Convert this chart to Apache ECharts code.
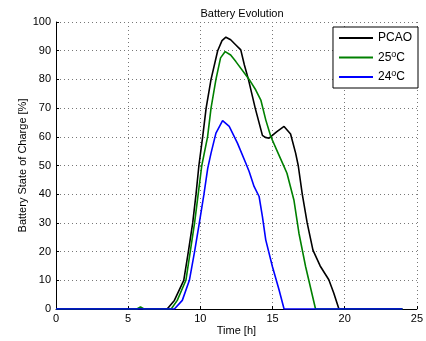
<!DOCTYPE html>
<html>
<head>
<meta charset="utf-8">
<script src="https://cdn.jsdelivr.net/npm/echarts@6/dist/echarts.min.js"></script>
<style>
  html, body { margin: 0; padding: 0; background: #fff; }
  #chart { width: 426px; height: 341px; }
</style>
</head>
<body>
<div id="chart"></div>
<script>
// time [h] / state of charge [%]
const pcaoTime = [0, 7.7, 8.2, 8.85, 9.17, 9.47, 9.7, 9.9, 10.16, 10.4, 10.74, 11.2, 11.5, 11.77, 12.1, 12.46, 12.8, 13.05, 13.33, 13.8, 14.3, 14.5, 14.76, 15.3, 15.8, 16.25, 16.6, 16.78, 17.06, 17.4, 17.8, 18.3, 18.9, 19.24, 19.6, 24];
const pcaoSoc  = [0, 0, 3, 10, 20, 30, 40, 50, 60, 70, 80, 90, 93.5, 94.7, 93.8, 92, 90.3, 85, 80, 70, 60.5, 59.8, 59.5, 61.8, 63.6, 61, 54.3, 50, 40, 30, 20.5, 15, 10.2, 5.6, 0, 0];

const t25Time = [0, 5.6, 5.85, 6.1, 6.9, 7.0, 7.1, 7.98, 8.4, 9.0, 9.3, 9.6, 9.85, 10.1, 10.5, 10.74, 11.08, 11.4, 11.72, 12.1, 12.46, 13.38, 13.84, 14.19, 14.53, 14.88, 15.33, 15.8, 16.0, 16.48, 16.83, 17.29, 17.98, 24];
const t25Soc  = [0, 0, 0.7, 0, 0, 0.3, 0, 0, 3, 10, 20, 30, 40, 50, 60, 70, 80, 87.5, 89.7, 88.5, 86.2, 80, 76.3, 72.8, 65.9, 60.1, 54.9, 49.6, 47.3, 38, 26.4, 14.8, 0, 0];

const t24Time = [0, 8.2, 8.75, 9.24, 9.6, 9.93, 10.25, 10.51, 10.74, 11.08, 11.54, 12.0, 12.57, 13.15, 13.38, 13.72, 14.07, 14.3, 14.53, 14.99, 15.45, 15.8, 24];
const t24Soc  = [0, 0, 3, 10, 20, 30, 40, 49, 54.3, 61.3, 65.6, 63.6, 57.8, 50.8, 47.9, 42.7, 39.2, 32.2, 24.1, 14.8, 6.7, 0, 0];

const seriesNames = ['PCAO', '25oC', '24oC'];
const seriesColors = ['#000000', '#008000', '#0000ff'];

const zip = (xs, ys) => xs.map((x, i) => [x, ys[i]]);
const seriesData = [zip(pcaoTime, pcaoSoc), zip(t25Time, t25Soc), zip(t24Time, t24Soc)];

const font = 'Liberation Sans, Arial, sans-serif';

const axisCommon = {
  axisLine: { show: true, lineStyle: { color: '#000', width: 1 } },
  axisTick: { show: true, inside: true, length: 3, lineStyle: { color: '#000' } },
  splitLine: { show: true, lineStyle: { type: [1, 3], color: '#777', width: 1 } },
  nameTextStyle: { color: '#000', fontFamily: font, fontSize: 11 },
  nameMoveOverlap: false,
};

const chart = echarts.init(document.getElementById('chart'), null, { renderer: 'canvas' });

chart.setOption({
  animation: false,
  backgroundColor: '#fff',
  title: {
    text: 'Battery Evolution',
    left: 237, top: 3, textAlign: 'center',
    textStyle: { fontFamily: font, fontSize: 11, fontWeight: 'normal', color: '#000' },
  },
  grid: { left: 56, right: 8, top: 22, bottom: 32 },
  legend: {
    orient: 'vertical',
    right: 8, top: 27,
    padding: [5, 6, 5, 6],
    itemGap: 6,
    itemWidth: 34, itemHeight: 12,
    backgroundColor: '#fff',
    borderColor: '#000', borderWidth: 1,
    data: seriesNames.map(n => ({ name: n, icon: 'path://M0,0 L34,0 L34,2 L0,2 Z' })),
    formatter: n => n === 'PCAO' ? '{a|PCAO}' : '{a|' + n.slice(0, 2) + '}{s|o}{a|C}',
    textStyle: {
      fontFamily: font, fontSize: 11, color: '#000',
      rich: {
        a: { fontFamily: font, fontSize: 12, color: '#000' },
        s: { fontFamily: font, fontSize: 9, color: '#000', verticalAlign: 'top', padding: [0, 0, 6, 0] },
      },
    },
  },
  xAxis: Object.assign({}, axisCommon, {
    type: 'value',
    min: 0, max: 25, interval: 5,
    name: 'Time [h]',
    nameLocation: 'middle',
    nameGap: 16,
    axisLabel: { color: '#000', fontFamily: font, fontSize: 11, margin: 4 },
  }),
  yAxis: Object.assign({}, axisCommon, {
    type: 'value',
    min: 0, max: 100, interval: 10,
    name: 'Battery State of Charge [%]',
    nameLocation: 'middle',
    nameGap: 28,
    axisLabel: { color: '#000', fontFamily: font, fontSize: 11, margin: 5 },
  }),
  series: seriesNames.map((n, i) => ({
    name: n,
    type: 'line',
    data: seriesData[i],
    showSymbol: false,
    smooth: false,
    lineStyle: { color: seriesColors[i], width: 1.6 },
    itemStyle: { color: seriesColors[i] },
  })),
});
</script>
</body>
</html>
